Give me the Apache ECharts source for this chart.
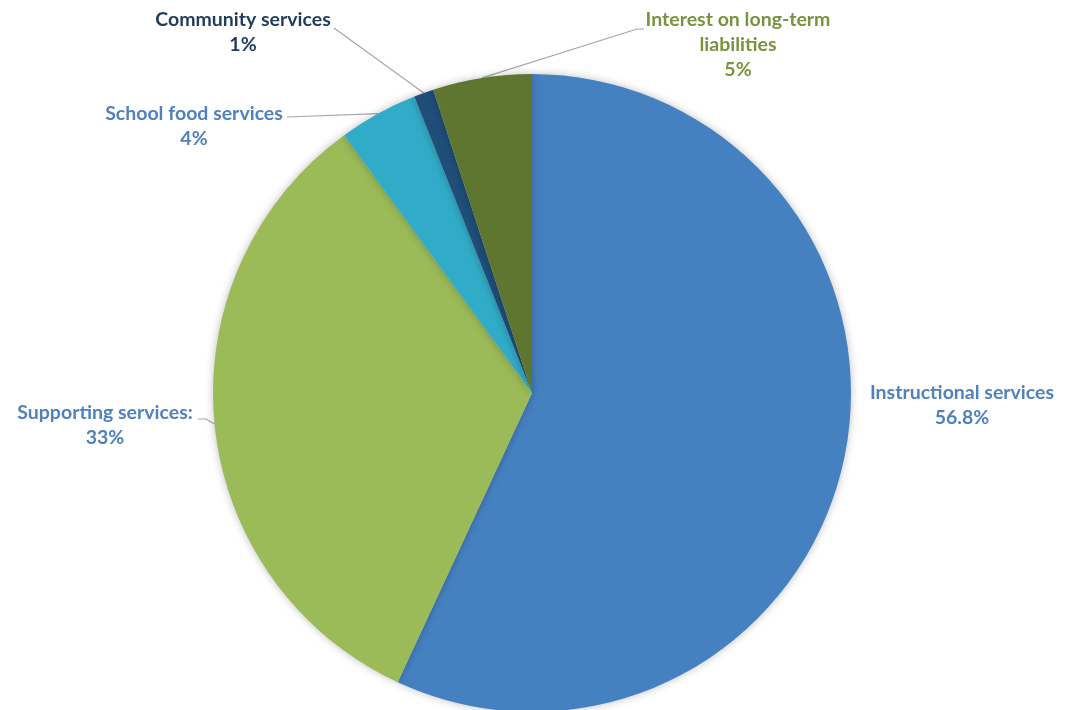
<!DOCTYPE html>
<html>
<head>
<meta charset="utf-8">
<script src="https://cdn.jsdelivr.net/npm/echarts@6/dist/echarts.min.js"></script>
<style>html,body{margin:0;padding:0;background:#fff}#c{width:1071px;height:710px}</style>
</head>
<body>
<div id="c"></div>
<script>
const categories = ['Instructional services', 'Supporting services:', 'School food services', 'Community services', 'Interest on long-term\nliabilities'];
const values = [56.8, 33, 4, 1, 5];
const sliceColors = ['#4581C1', '#9BBB59', '#31ACC8', '#1F4E79', '#5F7631'];
const labelColors = ['#4F81BD', '#4F81BD', '#4F81BD', '#1F3B5E', '#77933C'];

// label placement (center x, top y) and label-line bend / end points
const labelPos = [[962, 380], [105, 400], [194, 101], [243, 7], [738, 7]];
const lineBends = [null, [206, 419], [287, 117], [334, 28], [637, 29]];
const lineEnds = [null, [198, 419], [287, 117], [334, 28], [644, 29]];

const chart = echarts.init(document.getElementById('c'), null, {renderer: 'canvas'});
chart.setOption({
  animation: false,
  series: [{
    type: 'pie',
    center: [532, 393],
    radius: 319,
    startAngle: 90,
    clockwise: true,
    data: categories.map((n, i) => ({
      name: n,
      value: values[i],
      itemStyle: {color: sliceColors[i]},
      label: {color: labelColors[i]},
      labelLine: {show: i !== 0}
    })),
    itemStyle: {borderWidth: 0, shadowBlur: 8, shadowColor: 'rgba(0,0,0,0.25)'},
    label: {
      show: true,
      position: 'outside',
      formatter: p => p.name + '\n' + p.value + '%',
      fontFamily: 'Lato',
      fontWeight: 'bold',
      fontSize: 19.5,
      lineHeight: 25,
      align: 'center'
    },
    labelLine: {show: true, lineStyle: {color: '#A6A6A6', width: 1.2}, length: 10, length2: 10},
    labelLayout: function (params) {
      const i = params.dataIndex;
      const out = {x: labelPos[i][0], y: labelPos[i][1], align: 'center', verticalAlign: 'top'};
      if (lineEnds[i] && params.labelLinePoints) {
        const p0 = params.labelLinePoints[0];
        out.labelLinePoints = [p0, lineBends[i], lineEnds[i]];
      }
      return out;
    },
    emphasis: {disabled: true}
  }]
});
</script>
</body>
</html>
